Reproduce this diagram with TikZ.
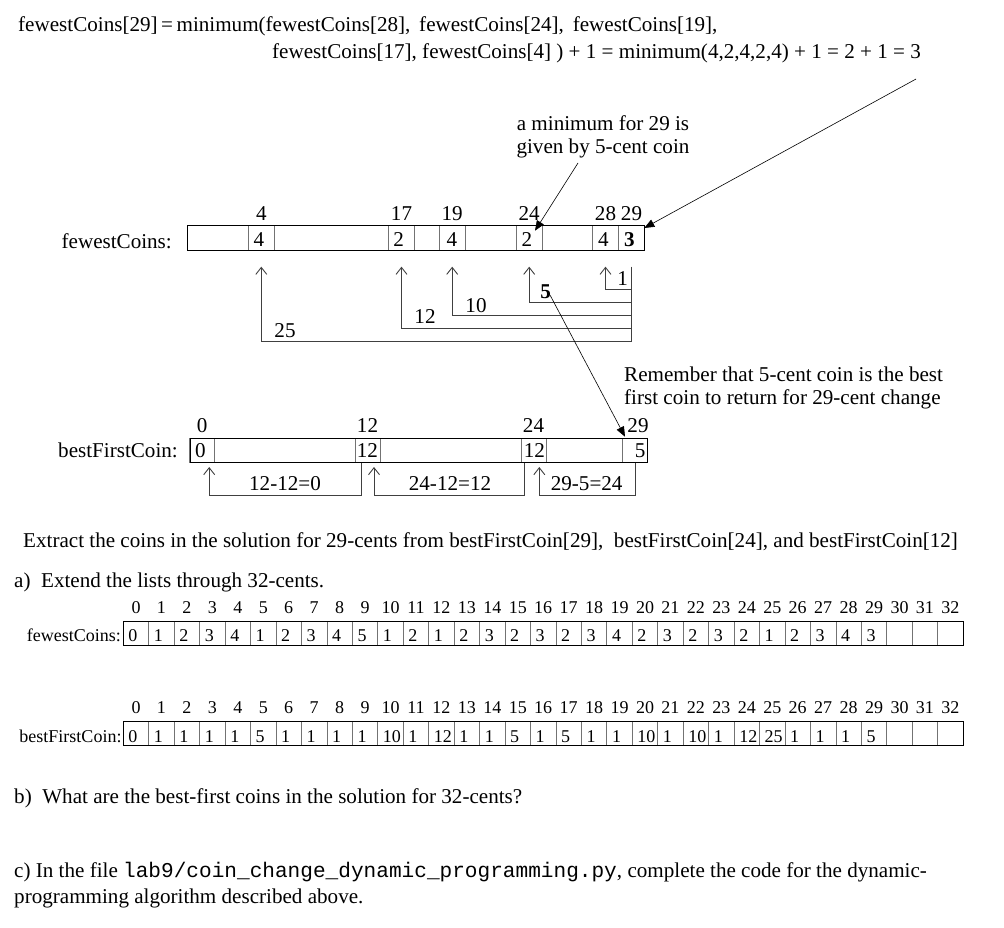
\documentclass[tikz,border=0pt]{standalone}
\usepackage{fontspec}
\setmainfont{Liberation Serif}
\setmonofont{Liberation Mono}
\usetikzlibrary{arrows.meta,calc}
\begin{document}
\begin{tikzpicture}[x=1pt,y=-1pt,
  big/.style={font=\fontsize{21.1}{25}\selectfont},
  bigbf/.style={font=\fontsize{21.1}{25}\selectfont\bfseries},
  small/.style={font=\fontsize{18}{21}\selectfont},
  txt/.style={big,inner sep=0pt,anchor=base west},
  txtr/.style={big,inner sep=0pt,anchor=base east},
  idx/.style={big,inner sep=0pt,anchor=base},
  sidx/.style={small,inner sep=0pt,anchor=base},
  sval/.style={small,inner sep=0pt,anchor=base west},
  cellbox/.style={draw=black!55,line width=0.7pt,minimum width=25.6pt,minimum height=24.3pt,inner sep=0pt,outer sep=0pt},
  bcell/.style={cellbox,minimum width=24.8pt,minimum height=24.4pt},
  scell/.style={draw=black!55,line width=0.7pt,minimum width=25.45pt,minimum height=23.5pt,inner sep=0pt,outer sep=0pt},
  frame/.style={draw=black,line width=0.8pt,inner sep=0pt,outer sep=0pt},
  conn/.style={draw=black!75,line width=0.75pt},
  uparrow/.style={conn,-{Straight Barb[length=7pt,width=11pt,line width=0.9pt]}},
  pointer/.style={draw=black,line width=0.6pt,-{Triangle[length=10pt,width=8pt]}},
]
\useasboundingbox (0,0) rectangle (1004,928);

% ---------- equation at top ----------
\node[txt] (eq1) at (18,32) {fewestCoins[29]\,=\,minimum(fewestCoins[28],\, fewestCoins[24],\, fewestCoins[19],};
\node[txt] (eq2) at (272,59) {fewestCoins[17], fewestCoins[4] ) + 1 = minimum(4,2,4,2,4) + 1 = 2 + 1 = 3};

% ---------- annotation ----------
\node[idx] (ann1a) at (603,131) {a minimum for 29 is};
\node[idx] (ann1b) at (603,154) {given by 5-cent coin};

% ---------- fewestCoins (upper) ----------
\node[txtr] (fclab) at (172,248) {fewestCoins:};
\node[cellbox] (f4)  at (261.3,237.85) {};
\node[cellbox] (f17) at (401.5,237.85) {};
\node[cellbox] (f19) at (452.2,237.85) {};
\node[cellbox] (f24) at (529.2,237.85) {};
\node[cellbox] (f28) at (605.5,237.85) {};
\node[cellbox] (f29) at (631.5,237.85) {};
\node[frame,minimum width=457pt,minimum height=24.3pt] (fcframe) at (415.8,237.85) {};
\node[txt] (f4v)  at ([xshift=5pt,yshift=-9pt]f4.west) {4};
\node[txt] (f17v) at ([xshift=4.5pt,yshift=-9pt]f17.west) {2};
\node[txt] (f19v) at ([xshift=7pt,yshift=-9pt]f19.west) {4};
\node[txt] (f24v) at ([xshift=5pt,yshift=-9pt]f24.west) {2};
\node[txt] (f28v) at ([xshift=5.3pt,yshift=-9pt]f28.west) {4};
\node[txt,bigbf] (f29v) at ([xshift=5.3pt,yshift=-9pt]f29.west) {3};
\node[idx] (f4i)  at ([yshift=4.7pt]f4.north) {4};
\node[idx] (f17i) at ([yshift=4.7pt]f17.north) {17};
\node[idx] (f19i) at ([yshift=4.7pt]f19.north) {19};
\node[idx] (f24i) at ([yshift=4.7pt]f24.north) {24};
\node[idx] (f28i) at ([yshift=4.7pt]f28.north) {28};
\node[idx] (f29i) at ([yshift=4.7pt]f29.north) {29};

% connectors below fewestCoins
\coordinate (rtop) at ([yshift=-16.7pt]f29.south);
\coordinate (r28) at (631.5,289.3);
\coordinate (r24) at (631.5,302.7);
\coordinate (r19) at (631.5,315.7);
\coordinate (r17) at (631.5,328.3);
\coordinate (r4)  at (631.5,341.7);
\draw[conn] (rtop) -- (r4);
\draw[uparrow] (r28) -| ([yshift=-16.7pt]f28.south);
\draw[uparrow] (r24) -| ([yshift=-16.7pt]f24.south);
\draw[uparrow] (r19) -| ([yshift=-16.7pt]f19.south);
\draw[uparrow] (r17) -| ([yshift=-16.7pt]f17.south);
\draw[uparrow] (r4)  -| ([yshift=-16.7pt]f4.south);
\node[idx] (lab1)  at (622.7,285) {1};
\node[idx,bigbf] (lab5) at (545.7,298) {5};
\node[idx] (lab10) at (476,312) {10};
\node[idx] (lab12) at (425,323) {12};
\node[idx] (lab25) at (285,337) {25};

% ---------- remember note ----------
\node[txt] (rem1) at (624,381) {Remember that 5-cent coin is the best};
\node[txt] (rem2) at (624,404) {first coin to return for 29-cent change};

% ---------- bestFirstCoin (upper) ----------
\node[txtr] (bflab) at (178,457) {bestFirstCoin:};
\node[bcell] (b0)  at (202.2,450.5) {};
\node[bcell] (b12) at (367.5,450.5) {};
\node[bcell] (b24) at (533.5,450.5) {};
\node[bcell] (b29) at (635,450.5) {};
\node[frame,minimum width=457.4pt,minimum height=24.4pt] (bfframe) at (418.7,450.5) {};
\node[txt] (b0v)  at ([xshift=5pt,yshift=-7pt]b0.west) {0};
\node[txt] (b12v) at ([xshift=1.5pt,yshift=-7pt]b12.west) {12};
\node[txt] (b24v) at ([xshift=2.5pt,yshift=-7pt]b24.west) {12};
\node[txt] (b29v) at ([xshift=12pt,yshift=-7pt]b29.west) {5};
\node[idx] (b0i)  at ([yshift=6.3pt]b0.north) {0};
\node[idx] (b12i) at ([yshift=6.3pt]b12.north) {12};
\node[idx] (b24i) at ([yshift=6.3pt]b24.north) {24};
\node[idx] (b29i) at ([xshift=3pt,yshift=6.3pt]b29.north) {29};

\draw[uparrow] ([xshift=-6.5pt]b12.south) -- ++(0,32.3) -| ([xshift=7pt,yshift=-4.3pt]b0.south);
\draw[uparrow] ([xshift=-9.5pt]b24.south) -- ++(0,32.3) -| ([xshift=6.5pt,yshift=-4.3pt]b12.south);
\draw[uparrow] (b29.south) -- ++(0,32.3) -| ([xshift=5.8pt,yshift=-4.3pt]b24.south);
\node[idx] (d1) at (285,490) {12-12=0};
\node[idx] (d2) at (450,490) {24-12=12};
\node[idx] (d3) at (586.7,490) {29-5=24};

% ---------- pointers ----------
\draw[pointer] ([xshift=-5pt,yshift=-20pt]eq2.base east) -- ([yshift=-2.3pt]f29.north east);
\draw[pointer] ([xshift=-25pt,yshift=-9pt]ann1b.base) -- ([xshift=5.8pt,yshift=-5pt]f24.north);
\draw[pointer] ([xshift=4.3pt,yshift=3pt]lab5.base) -- ([xshift=-10pt,yshift=1.6pt]b29.north);

% ---------- lower text ----------
\node[txt] (extract) at (23,547) {Extract the coins in the solution for 29-cents from bestFirstCoin[29],~ bestFirstCoin[24], and bestFirstCoin[12]};
\node[txt] (qa) at (14,587) {a)~ Extend the lists through 32-cents.};

% table 1
\node[small,inner sep=0pt,anchor=base east] (t1lab) at (121,641) {fewestCoins:};
\foreach \v [count=\i from 0] in {0,1,2,3,4,1,2,3,4,5,1,2,1,2,3,2,3,2,3,4,2,3,2,3,2,1,2,3,4,3,{},{},{}} {
  \node[scell] (t1c\i) at (136.0+25.45*\i,633.5) {};
  \node[sval] (t1v\i) at ([xshift=5pt,yshift=-7.8pt]t1c\i.west) {\v};
  \node[sidx] (t1i\i) at ([yshift=8.7pt]t1c\i.north) {\i};
}
\node[frame,minimum width=839.85pt,minimum height=23.5pt] (t1frame) at (543.2,633.5) {};

% table 2
\node[small,inner sep=0pt,anchor=base east] (t2lab) at (121.7,742) {bestFirstCoin:};
\foreach \v [count=\i from 0] in {0,1,1,1,1,5,1,1,1,1,10,1,12,1,1,5,1,5,1,1,10,1,10,1,12,25,1,1,1,5,{},{},{}} {
  \node[scell] (t2c\i) at (136.0+25.45*\i,733.5) {};
  \node[sval] (t2v\i) at ([xshift=5pt,yshift=-8.5pt]t2c\i.west) {\v};
  \node[sidx] (t2i\i) at ([yshift=8.7pt]t2c\i.north) {\i};
}
\node[frame,minimum width=839.85pt,minimum height=23.5pt] (t2frame) at (543.2,733.5) {};

\node[txt] (qb) at (14,803) {b)~ What are the best-first coins in the solution for 32-cents?};
\node[txt] (qc1) at (14,877) {c) In the file \texttt{lab9/coin\_change\_dynamic\_programming.py}, complete the code for the dynamic-};
\node[txt] (qc2) at (14,903) {programming algorithm described above.};
\end{tikzpicture}
\end{document}
